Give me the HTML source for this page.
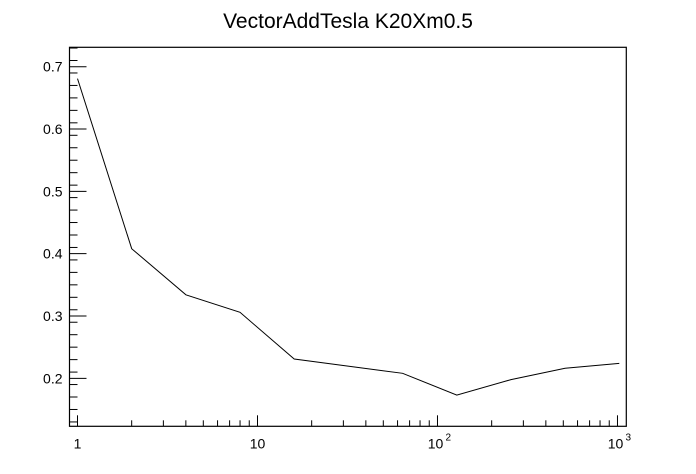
<!DOCTYPE html>
<html><head><meta charset="utf-8"><style>
body{margin:0;background:#fff;}
svg{display:block;font-family:"Liberation Sans",Arial,sans-serif;}
</style></head><body>
<svg id="c" width="696" height="474">
<text x="348" y="28" text-anchor="middle" font-size="21">VectorAddTesla K20Xm0.5</text>
<rect x="69.5" y="47.3" width="556.8" height="379" fill="none" stroke="#000" stroke-width="1.2"/>
<g id="ax"></g>
<path id="ln" fill="none" stroke="#000" stroke-width="1"/>
</svg>
<script>
const xValues=[1,2,4,8,16,64,128,256,512,1024];
const yValues=[0.681,0.408,0.334,0.306,0.231,0.208,0.173,0.198,0.216,0.224];
const yTicks=[0.2,0.3,0.4,0.5,0.6,0.7];
const xTickLabels=["1","10","10²","10³"];
const L=69.5,R=626.3,T=47.3,B=426.3;
const lxMin=-0.0444,lxMax=3.049,yMin=0.123,yMax=0.7312;
function sx(v){return L+(Math.log10(v)-lxMin)/(lxMax-lxMin)*(R-L);}
function sy(v){return B-(v-yMin)/(yMax-yMin)*(B-T);}
const ns="http://www.w3.org/2000/svg",ax=document.getElementById('ax');
function line(x1,y1,x2,y2,name){const l=document.createElementNS(ns,'line');l.setAttribute('x1',x1);l.setAttribute('y1',y1);l.setAttribute('x2',x2);l.setAttribute('y2',y2);l.setAttribute('stroke','#000');l.setAttribute('stroke-width','1');


ax.appendChild(l);}
function text(x,y,s,anchor,name){const t=document.createElementNS(ns,'text');t.setAttribute('x',x);t.setAttribute('y',y);t.setAttribute('text-anchor',anchor);t.setAttribute('font-size','14');t.textContent=s;


ax.appendChild(t);}
// y ticks
for(let v=0.13;v<=0.731;v+=0.02){const y=sy(v);line(L,y,L+8,y,'y-minor-tick');}
yTicks.forEach(v=>{const y=sy(v);line(L,y,L+17,y,'y-major-tick');text(L-7,y+5,v.toFixed(1),'end','y-tick-label');});
// x ticks
for(let d=0;d<4;d++){for(let m=1;m<10;m++){const v=m*Math.pow(10,d);const lv=Math.log10(v);if(lv>lxMax)break;const x=sx(v);line(x,B,x,B-(m===1?11:6),m===1?'x-major-tick':'x-minor-tick');}}
xTickLabels.forEach((s,i)=>{const x=sx(Math.pow(10,i));if(i<2)text(x,B+22,s,'middle','x-tick-label');else{text(x-2,B+22,'10','middle','x-tick-label');const t=document.createElementNS(ns,'text');t.setAttribute('x',x+8);t.setAttribute('y',B+14);t.setAttribute('font-size','10');t.textContent=String(i);


ax.appendChild(t);}});
document.getElementById('ln').setAttribute('d',xValues.map((x,i)=>(i?'L':'M')+sx(x).toFixed(1)+','+sy(yValues[i]).toFixed(1)).join(''));
</script>
</body></html>
